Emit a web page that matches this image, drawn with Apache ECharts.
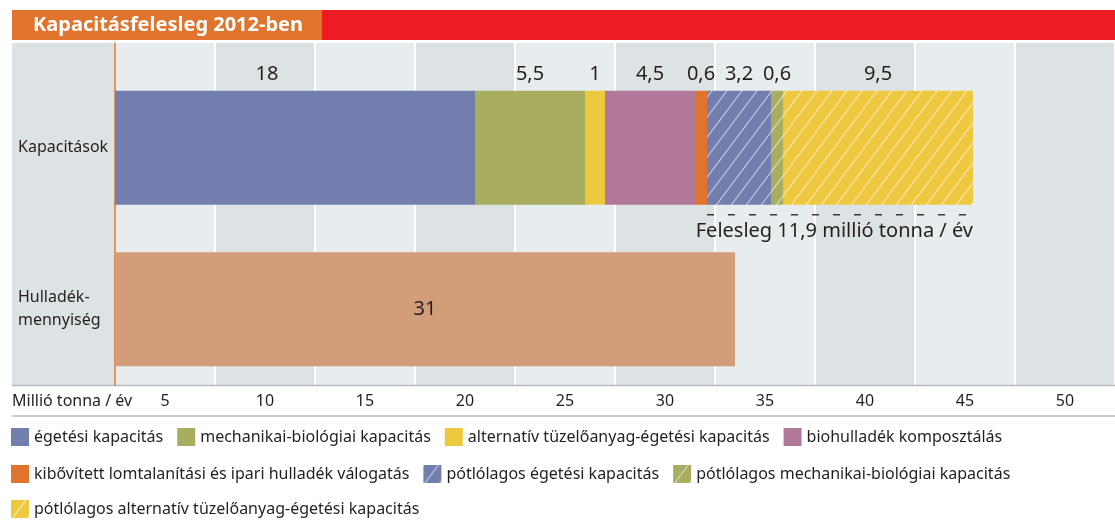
<!DOCTYPE html>
<html>
<head>
<meta charset="utf-8">
<script src="https://cdn.jsdelivr.net/npm/echarts@6/dist/echarts.min.js"></script>
<style>
  html, body { margin: 0; padding: 0; background: #fff; }
  #chart { width: 1115px; height: 521px; }
</style>
</head>
<body>
<div id="chart"></div>
<script>
  // adatok
  var categories = ['Kapacitások', 'Hulladék-\nmennyiség'];
  var bandLabels = ['5', '10', '15', '20', '25', '30', '35', '40', '45', '50'];
  var capacityNames = [
    'égetési kapacitás',
    'mechanikai-biológiai kapacitás',
    'alternatív tüzelőanyag-égetési kapacitás',
    'biohulladék komposztálás',
    'kibővített lomtalanítási és ipari hulladék válogatás',
    'pótlólagos égetési kapacitás',
    'pótlólagos mechanikai-biológiai kapacitás',
    'pótlólagos alternatív tüzelőanyag-égetési kapacitás'
  ];
  var capacityValues = [18, 5.5, 1, 4.5, 0.6, 3.2, 0.6, 9.5];
  var wasteValue = 31;
  var surplus = 11.9;

  var baseColors = ['#727fae', '#a8ad60', '#eec93f', '#b27899', '#e0742d', '#727fae', '#a8ad60', '#eec93f'];
  var hatched = [false, false, false, false, false, true, true, true];
  var font = 'Noto Sans';
  var ink = '#231f20';

  function hatch(color) {
    var c = document.createElement('canvas');
    c.width = 15; c.height = 20;
    var g = c.getContext('2d');
    g.fillStyle = color;
    g.fillRect(0, 0, 15, 20);
    g.strokeStyle = 'rgba(255,255,255,0.55)';
    g.lineWidth = 1.2;
    [-15, 0, 15].forEach(function (dx) {
      g.beginPath(); g.moveTo(dx, 20); g.lineTo(dx + 15, 0); g.stroke();
    });
    return { image: c, repeat: 'repeat' };
  }

  function fmt(v) { return String(v).replace('.', ','); }

  var series = capacityNames.map(function (name, i) {
    return {
      name: name,
      type: 'bar',
      stack: 'all',
      xAxisIndex: 1,
      yAxisIndex: 1,
      barWidth: 114,
      itemStyle: { color: hatched[i] ? hatch(baseColors[i]) : baseColors[i] },
      label: {
        show: true,
        position: 'top',
        distance: 6,
        offset: i === 0 ? [-28, 0] : [0, 0],
        fontFamily: font,
        fontSize: 20,
        color: ink,
        formatter: function (p) { return fmt(p.value); }
      },
      emphasis: { disabled: true },
      data: [capacityValues[i], '-']
    };
  });
  series.push({
    name: 'Hulladékmennyiség',
    type: 'bar',
    stack: 'all',
    xAxisIndex: 1,
    yAxisIndex: 1,
    barWidth: 114,
    itemStyle: { color: '#d49d79' },
    label: { show: true, position: 'inside', fontFamily: font, fontSize: 20, color: ink },
    emphasis: { disabled: true },
    data: ['-', wasteValue]
  });

  function legendRow(names, top) {
    return {
      data: names,
      left: 6,
      top: top,
      icon: 'rect',
      itemWidth: 18,
      itemHeight: 18,
      itemGap: 14,
      textStyle: { fontFamily: font, fontSize: 16, color: ink }
    };
  }

  var chart = echarts.init(document.getElementById('chart'));
  var option = {
    animation: false,
    backgroundColor: '#fff',
    textStyle: { fontFamily: font },
    legend: [
      legendRow(capacityNames.slice(0, 4), 423),
      legendRow(capacityNames.slice(4, 7), 460),
      legendRow(capacityNames.slice(7), 495)
    ],
    grid: [
      { left: 115, right: 0, top: 43, bottom: 136 },
      { left: 115, right: 0, top: 67, bottom: 131 }
    ],
    xAxis: [{
      type: 'category',
      gridIndex: 0,
      data: bandLabels,
      boundaryGap: true,
      axisLine: { show: false },
      axisTick: { show: false },
      axisLabel: { margin: 8, fontFamily: font, fontSize: 16, color: ink },
      splitLine: { show: true, lineStyle: { color: '#ffffff', width: 2 } },
      splitArea: { show: true, areaStyle: { color: ['#e7edef', '#dde2e5'] } }
    }, {
      type: 'value',
      gridIndex: 1,
      min: 0,
      max: 50,
      show: false
    }],
    yAxis: [{
      type: 'value',
      gridIndex: 0,
      axisLine: { show: true, lineStyle: { color: '#e0742d', width: 1.5 } },
      axisTick: { show: false },
      axisLabel: { show: false },
      splitLine: { show: false }
    }, {
      type: 'category',
      gridIndex: 1,
      data: categories,
      inverse: true,
      axisLine: { show: false },
      axisTick: { show: false },
      axisLabel: {
        align: 'left',
        margin: 97,
        fontFamily: font,
        fontSize: 16,
        lineHeight: 23,
        color: ink
      }
    }],
    series: series
  };
  chart.setOption(option);

  // felesleg jelölése a skálából számolva
  var dashStart = capacityValues.slice(0, 5).reduce(function (a, b) { return a + b; }, 0);
  var total = capacityValues.reduce(function (a, b) { return a + b; }, 0);
  var p0 = chart.convertToPixel({ gridIndex: 1 }, [dashStart, categories[0]]);
  var p1 = chart.convertToPixel({ gridIndex: 1 }, [total, categories[0]]);
  var dashY = p0[1] + 57 + 10;

  chart.setOption({
    graphic: [
      { type: 'rect', shape: { x: 12, y: 10, width: 310, height: 30 }, style: { fill: '#e0742d' } },
      { type: 'rect', shape: { x: 322, y: 10, width: 793, height: 30 }, style: { fill: '#ed1c24' } },
      {
        type: 'text', x: 33, y: 25,
        style: { text: 'Kapacitásfelesleg 2012-ben', fill: '#fff', font: 'bold 20px "' + font + '"', verticalAlign: 'middle' }
      },
      { type: 'rect', shape: { x: 12, y: 43, width: 103, height: 342 }, style: { fill: '#dde2e5' } },
      { type: 'line', shape: { x1: 12, y1: 385.5, x2: 1115, y2: 385.5 }, style: { stroke: '#b3bcc4', lineWidth: 1.5 } },
      { type: 'line', shape: { x1: 12, y1: 416, x2: 1115, y2: 416 }, style: { stroke: '#b3bcc4', lineWidth: 1.5 } },
      {
        type: 'text', x: 12, y: 401,
        style: { text: 'Millió tonna / év', fill: ink, font: '16px "' + font + '"', verticalAlign: 'middle' }
      },
      {
        type: 'line', shape: { x1: p0[0], y1: dashY, x2: p1[0], y2: dashY },
        style: { stroke: '#3a3a3a', lineWidth: 1.5, lineDash: [7, 14] }
      },
      {
        type: 'text', x: p1[0], y: dashY + 17,
        style: { text: 'Felesleg ' + fmt(surplus) + ' millió tonna / év', fill: ink, font: '20px "' + font + '"', align: 'right', verticalAlign: 'middle' }
      }
    ]
  });
</script>
</body>
</html>
